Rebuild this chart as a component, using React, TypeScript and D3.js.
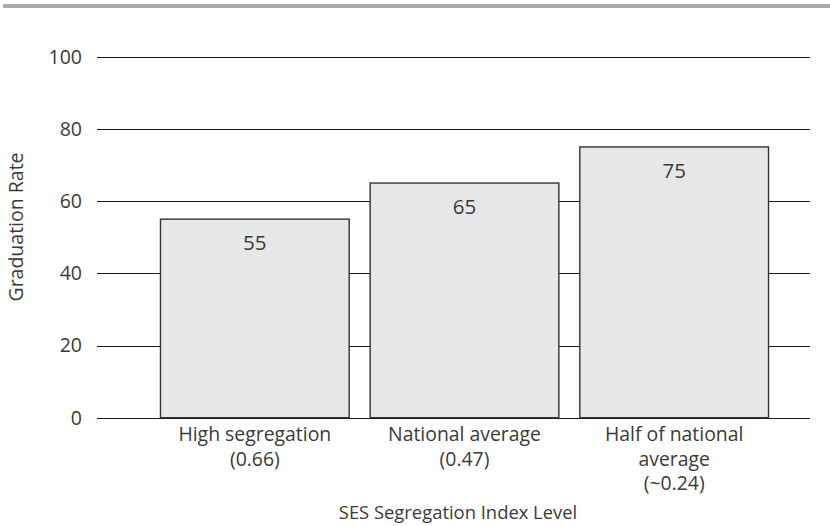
import React from "react";
import * as d3 from "d3";

// data
const categories = ["high", "national", "half"];
const categoryLabels = [
  ["High segregation", "(0.66)"],
  ["National average", "(0.47)"],
  ["Half of national", "average", "(~0.24)"],
];
const gradRates = [55, 65, 75];
const yTicks = [0, 20, 40, 60, 80, 100];

const yTitle = "Graduation Rate";
const xTitle = "SES Segregation Index Level";

const width = 830;
const height = 526;
const font = "'Open Sans', 'Noto Sans', sans-serif";
const textColor = "#3a3a3a";

const App = () => {
  const gridLeft = 97;
  const gridRight = 810;

  const x = d3
    .scaleBand<string>()
    .domain(categories)
    .range([150, 779])
    .paddingInner(0.1)
    .paddingOuter(0.05);

  const y = d3.scaleLinear().domain([0, 100]).range([417.7, 56.7]);

  const mid = (c: string) => (x(c) ?? 0) + x.bandwidth() / 2;

  return (
    <svg
      width={width}
      height={height}
      style={{ position: "absolute", left: 0, top: 0, background: "#fff" }}
      fontFamily={font}
    >
      {/* top rule */}
      <rect x={3} y={4} width={827} height={4} fill="#a7a9ac" />

      {/* gridlines + y ticks */}
      {yTicks.map((t) => (
        <g key={t}>
          <line
            x1={gridLeft}
            x2={gridRight}
            y1={Math.round(y(t)) + 0.5}
            y2={Math.round(y(t)) + 0.5}
            stroke="#1a1a1a"
            strokeWidth={1}
          />
          <text
            x={82}
            y={y(t)}
            dy="0.35em"
            textAnchor="end"
            fontSize={19.5}
            fill={textColor}
          >
            {t}
          </text>
        </g>
      ))}

      {/* bars */}
      {categories.map((c, i) => (
        <g key={c}>
          <rect
            x={x(c)}
            y={y(gradRates[i])}
            width={x.bandwidth()}
            height={y(0) - y(gradRates[i])}
            fill="#e6e7e8"
            stroke="#333"
            strokeWidth={1.4}
          />
          <text
            x={mid(c)}
            y={y(gradRates[i]) + 31}
            textAnchor="middle"
            fontSize={20.5}
            fill={textColor}
          >
            {gradRates[i]}
          </text>
        </g>
      ))}

      {/* x category labels */}
      {categories.map((c, i) => (
        <text
          key={c + "-lbl"}
          x={mid(c)}
          y={y(0) + 23}
          textAnchor="middle"
          fontSize={19.4}
          fill={textColor}
        >
          {categoryLabels[i].map((line, j) => (
            <tspan key={j} x={mid(c)} dy={j === 0 ? 0 : 24.8}>
              {line}
            </tspan>
          ))}
        </text>
      ))}

      {/* axis titles */}
      <text
        x={458}
        y={519}
        textAnchor="middle"
        fontSize={18.4}
        fill={textColor}
      >
        {xTitle}
      </text>
      <text
        transform={`translate(23, 227) rotate(-90)`}
        textAnchor="middle"
        fontSize={19.5}
        fill={textColor}
      >
        {yTitle}
      </text>
    </svg>
  );
};

export default App;
